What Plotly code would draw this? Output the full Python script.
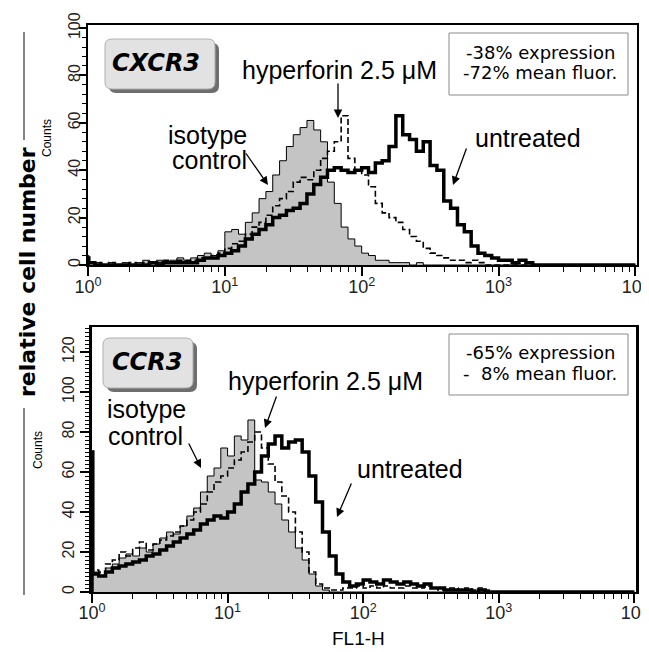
import plotly.graph_objects as go

# page body has an 8px margin, so the figure is drawn 8px in from the window corner
OFF = 8
W, H = 649 - OFF, 652 - OFF

# ---------------- data ----------------
# log10(FL1-H) channel positions; the first channel is a narrow one at 10^0
channel_exp = [0.0, 0.006] + [round(k * 0.05, 2) for k in range(1, 80)]

# CXCR3 panel (counts per channel group)
cxcr3_isotype = [4,
    1, 1, 0, 1, 0, 1, 0, 1, 2, 1,
    2, 1, 2, 3, 2, 3, 4, 5, 4, 6,
    14, 15, 13, 18, 22, 28, 31, 38, 44, 50,
    55, 58, 61, 57, 52, 35, 26, 16, 11, 8,
    5, 4, 2, 2, 1, 1, 1, 0, 1, 0,
    0, 0, 0, 0, 0, 0, 0, 0, 0, 0,
    0, 0, 0, 0, 0, 0, 0, 0, 0, 0,
    0, 0, 0, 0, 0, 0, 0, 0, 0, 0]
cxcr3_untreated = [3,
    1, 0, 0, 0, 0, 0, 0, 0, 0, 1,
    0, 1, 1, 1, 1, 1, 2, 3, 3, 4,
    5, 6, 8, 11, 13, 15, 17, 20, 21, 23,
    24, 26, 30, 34, 37, 40, 41, 40, 39, 40,
    41, 39, 43, 44, 50, 63, 55, 53, 48, 52,
    42, 40, 27, 24, 17, 14, 8, 5, 4, 3,
    2, 2, 1, 2, 1, 0, 0, 0, 0, 0,
    0, 0, 0, 0, 0, 0, 0, 0, 0, 0]
cxcr3_hyperforin = [2,
    1, 1, 0, 1, 0, 0, 1, 0, 1, 1,
    1, 2, 1, 2, 2, 2, 3, 3, 4, 5,
    7, 9, 10, 13, 16, 18, 21, 25, 28, 31,
    35, 37, 36, 40, 45, 48, 52, 63, 45, 40,
    38, 33, 26, 22, 20, 18, 15, 12, 10, 7,
    5, 4, 3, 2, 2, 1, 2, 1, 0, 0,
    0, 0, 0, 0, 0, 0, 0, 0, 0, 0,
    0, 0, 0, 0, 0, 0, 0, 0, 0, 0]

# CCR3 panel
ccr3_isotype = [10,
    10, 8, 12, 14, 17, 19, 18, 22, 20, 24,
    27, 30, 29, 33, 38, 42, 50, 58, 62, 72,
    68, 78, 76, 86, 56, 55, 50, 44, 36, 30,
    22, 16, 9, 3, 1, 0, 0, 0, 0, 0,
    0, 0, 0, 0, 0, 0, 0, 0, 0, 0,
    0, 0, 0, 0, 0, 0, 0, 0, 0, 0,
    0, 0, 0, 0, 0, 0, 0, 0, 0, 0,
    0, 0, 0, 0, 0, 0, 0, 0, 0, 0]
ccr3_untreated = [70,
    9, 8, 10, 12, 13, 14, 15, 16, 18, 19,
    21, 23, 25, 27, 29, 31, 34, 36, 38, 37,
    40, 44, 50, 54, 60, 68, 74, 78, 72, 75,
    76, 70, 58, 45, 30, 18, 9, 5, 3, 4,
    6, 5, 4, 6, 5, 4, 5, 4, 3, 4,
    2, 2, 1, 1, 1, 1, 0, 1, 0, 0,
    0, 0, 0, 0, 0, 0, 0, 0, 0, 0,
    0, 0, 0, 0, 0, 0, 0, 0, 0, 0]
ccr3_hyperforin = [10,
    11, 10, 14, 16, 20, 18, 22, 25, 21, 24,
    26, 28, 30, 33, 36, 40, 44, 50, 55, 58,
    62, 66, 70, 75, 80, 72, 64, 55, 48, 40,
    30, 20, 10, 4, 2, 1, 1, 2, 2, 3,
    2, 3, 2, 3, 2, 2, 3, 2, 2, 3,
    2, 1, 2, 2, 1, 2, 1, 2, 1, 0,
    0, 0, 0, 0, 0, 0, 0, 0, 0, 0,
    0, 0, 0, 0, 0, 0, 0, 0, 0, 0]

x_tick_exp = [0, 1, 2, 3, 4]
x_tick_text = ["10<sup>%d</sup>" % e for e in x_tick_exp]
cxcr3_y_ticks = [0, 20, 40, 60, 80, 100]
ccr3_y_ticks = [0, 20, 40, 60, 80, 100, 120]

cxcr3_stats = ["-38% expression", "-72% mean fluor."]
ccr3_stats = ["-65% expression", "-\u00a0\u00a08% mean fluor."]

# ---------------- helpers (window pixel -> paper) ----------------
def P(x, y):
    return (x - OFF) / W, 1 - (y - OFF) / H


def DX(a, b):
    return [(a - OFF) / W, (b - OFF) / W]


def DY(top, bottom):
    return [1 - (bottom - OFF) / H, 1 - (top - OFF) / H]


def steps(vals):
    xs = [10 ** e for e in channel_exp] + [10 ** 4.0]
    ys = list(vals) + [vals[-1]]
    return [1.0] + xs, [0] + ys


GREY = "#c4c4c4"
fig = go.Figure()

for vals, xa, ya in [(cxcr3_isotype, "x", "y"), (ccr3_isotype, "x2", "y2")]:
    xs, ys = steps(vals)
    fig.add_trace(go.Scatter(x=xs, y=ys, mode="lines", line=dict(color="black", width=1, shape="hv"),
                             fill="tozeroy", fillcolor=GREY, xaxis=xa, yaxis=ya, showlegend=False))
for vals, xa, ya in [(cxcr3_hyperforin, "x", "y"), (ccr3_hyperforin, "x2", "y2")]:
    xs, ys = steps(vals)
    fig.add_trace(go.Scatter(x=xs, y=ys, mode="lines",
                             line=dict(color="black", width=1.6, shape="hv", dash="6px,3px"),
                             xaxis=xa, yaxis=ya, showlegend=False))
for vals, xa, ya in [(cxcr3_untreated, "x", "y"), (ccr3_untreated, "x2", "y2")]:
    xs, ys = steps(vals)
    fig.add_trace(go.Scatter(x=xs, y=ys, mode="lines", line=dict(color="black", width=3.5, shape="hv"),
                             xaxis=xa, yaxis=ya, showlegend=False))

minor_x = [d * 10 ** k for k in range(4) for d in range(2, 10)]
xfont = dict(family="Liberation Sans, Arial", size=18, color="#222")
yfont = dict(family="Liberation Sans, Arial", size=16, color="#222")


def xaxis(dom, standoff):
    return dict(type="log", domain=dom, range=[0, 4.012], tickmode="array",
                tickvals=[10 ** e for e in x_tick_exp], ticktext=x_tick_text,
                ticks="outside", ticklen=9, tickwidth=1.5, tickcolor="black",
                minor=dict(tickmode="array", tickvals=minor_x, ticks="outside", ticklen=5,
                           tickwidth=1.2, tickcolor="black", showgrid=False),
                showline=True, linecolor="black", linewidth=1.5, mirror=True,
                showgrid=False, zeroline=False, tickfont=xfont, automargin=False,
                ticklabelstandoff=standoff, ticklabeloverflow="allow")


def yaxis(dom, rng, tv, mdt, tlen, lw, anchor, standoff):
    return dict(domain=dom, range=rng, tickmode="array", tickvals=tv,
                ticktext=[str(v) for v in tv], tickangle=-90,
                ticks="outside", ticklen=tlen, tickwidth=1.5, tickcolor="black",
                minor=dict(dtick=mdt, ticks="outside", ticklen=4, tickwidth=1,
                           tickcolor="black", showgrid=False),
                showline=True, linecolor="black", linewidth=lw, mirror=True,
                showgrid=False, zeroline=False, tickfont=yfont, anchor=anchor, automargin=False,
                ticklabelstandoff=standoff, ticklabeloverflow="allow")


fig.update_layout(
    template="none",
    width=W, height=H, autosize=False,
    margin=dict(l=0, r=0, t=0, b=0, pad=0),
    paper_bgcolor="white", plot_bgcolor="white",
    xaxis=xaxis(DX(88, 637), -4) | dict(anchor="y"),
    yaxis=yaxis(DY(25, 265), [0, 101.3], cxcr3_y_ticks, 4, 7, 1.5, "x", -7),
    xaxis2=xaxis(DX(92, 636), -5) | dict(anchor="y2"),
    yaxis2=yaxis(DY(327, 592), [0, 132.5], ccr3_y_ticks, 2, 9, 3, "x2", 0),
)

shapes = []
anns = []


def rounded(x0, y0, x1, y1, r):
    pts = [("M", x0 + r, y0), ("L", x1 - r, y0), ("Q", x1, y0, x1, y0 + r), ("L", x1, y1 - r),
           ("Q", x1, y1, x1 - r, y1), ("L", x0 + r, y1), ("Q", x0, y1, x0, y1 - r),
           ("L", x0, y0 + r), ("Q", x0, y0, x0 + r, y0)]
    out = []
    for p in pts:
        cmd = p[0]
        coords = p[1:]
        s = []
        for i in range(0, len(coords), 2):
            a, b = P(coords[i], coords[i + 1])
            s.append("%.5f,%.5f" % (a, b))
        out.append(cmd + " " + " ".join(s))
    return " ".join(out) + " Z"


def note(txt, cx, cy, font, xa="center", ya="middle", angle=0):
    x, y = P(cx, cy)
    anns.append(dict(x=x, y=y, xref="paper", yref="paper", text=txt, showarrow=False,
                     xanchor=xa, yanchor=ya, textangle=angle, font=font))


label_font = dict(family="DejaVu Sans", size=24, color="black", weight="bold", style="italic")
for (x0, y0, x1, y1), name, (tx, ty) in [((105, 39, 215, 89), "CXCR3", (156, 63)),
                                         ((103, 338, 193, 388), "CCR3", (147, 362))]:
    shapes.append(dict(type="path", xref="paper", yref="paper", path=rounded(x0 + 4, y0 + 4, x1 + 4, y1 + 4, 7),
                       fillcolor="#6e6e6e", line=dict(width=0)))
    shapes.append(dict(type="path", xref="paper", yref="paper", path=rounded(x0, y0, x1, y1, 7),
                       fillcolor="#e2e2e2", line=dict(color="#b0b0b0", width=1)))
    note(name, tx, ty, label_font)

# stats boxes
stat_font = dict(family="DejaVu Sans", size=18, color="black")
for (x0, y0, x1, y1), lines, ys in [((449, 33, 628, 95), cxcr3_stats, (52, 73)),
                                    ((449, 334, 628, 395), ccr3_stats, (352, 373))]:
    a0, b0 = P(x0, y1)
    a1, b1 = P(x1, y0)
    shapes.append(dict(type="rect", xref="paper", yref="paper", x0=a0, y0=b0, x1=a1, y1=b1,
                       line=dict(color="#8a8a8a", width=1)))
    for txt, yy in zip(lines, ys):
        note(txt, 540, yy, stat_font)

# curve labels
lab = dict(family="Liberation Sans, Arial", size=25, color="black")
for txt, cx, cy, xa in [("hyperforin 2.5 \u03bcM", 339, 70, "center"),
                        ("isotype", 249, 135, "right"), ("control", 249, 160, "right"),
                        ("untreated", 528, 138, "center"),
                        ("hyperforin 2.5 \u03bcM", 325, 381, "center"),
                        ("isotype", 105, 409, "left"), ("control", 106, 436, "left"),
                        ("untreated", 410, 469, "center")]:
    note(txt, cx, cy, lab, xa=xa)

# arrows: (tip, tail)
for (hx, hy), (tx, ty) in [((338, 118), (338, 82)), ((268, 185), (245, 152)), ((453, 185), (467, 147)),
                           ((265, 428), (277, 395)), ((201, 468), (188, 442)), ((337, 517), (352, 482))]:
    x, y = P(hx, hy)
    anns.append(dict(x=x, y=y, xref="paper", yref="paper", text="", showarrow=True,
                     ax=tx - hx, ay=ty - hy, arrowhead=2, arrowsize=1.3, arrowwidth=1.3,
                     arrowcolor="black"))

# axis titles
cfont = dict(family="Liberation Sans, Arial", size=12, color="black")
note("Counts", 47, 138, cfont, angle=-90)
note("Counts", 38, 450, cfont, angle=-90)
note("FL1-H", 358, 638, dict(family="Liberation Sans, Arial", size=19, color="black"))
note("relative cell number", 27, 272,
     dict(family="DejaVu Sans", size=22, color="black", weight="bold"), angle=-90)
for (y0, y1) in [(32, 140), (408, 595)]:
    a, b0 = P(24, y0)
    _, b1 = P(24, y1)
    shapes.append(dict(type="line", xref="paper", yref="paper", x0=a, x1=a, y0=b0, y1=b1,
                       line=dict(color="#333", width=1.2)))

fig.update_layout(shapes=shapes, annotations=anns)
fig.write_html("out.html")
